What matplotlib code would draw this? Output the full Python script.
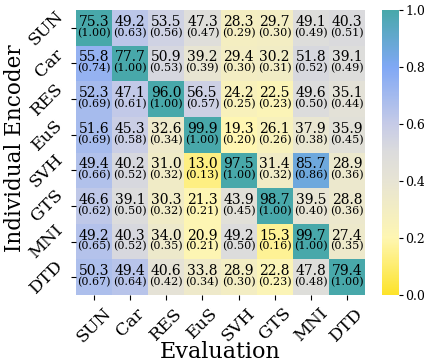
import numpy as np
import matplotlib
matplotlib.use("Agg")
import matplotlib.pyplot as plt
from matplotlib.colors import LinearSegmentedColormap

plt.rcParams['font.family'] = ['DejaVu Serif']

labels = ["SUN", "Car", "RES", "EuS", "SVH", "GTS", "MNI", "DTD"]

# accuracy per (encoder row, evaluation column)
acc = np.array([
    [75.3, 49.2, 53.5, 47.3, 28.3, 29.7, 49.1, 40.3],
    [55.8, 77.7, 50.9, 39.2, 29.4, 30.2, 51.8, 39.1],
    [52.3, 47.1, 96.0, 56.5, 24.2, 22.5, 49.6, 35.1],
    [51.6, 45.3, 32.6, 99.9, 19.3, 26.1, 37.9, 35.9],
    [49.4, 40.2, 31.0, 13.0, 97.5, 31.4, 85.7, 28.9],
    [46.6, 39.1, 30.3, 21.3, 43.9, 98.7, 39.5, 28.8],
    [49.2, 40.3, 34.0, 20.9, 49.2, 15.3, 99.7, 27.4],
    [50.3, 49.4, 40.6, 33.8, 28.9, 22.8, 47.8, 79.4],
])

# normalized accuracy (shown in parentheses, drives the colour)
norm = np.array([
    [1.00, 0.63, 0.56, 0.47, 0.29, 0.30, 0.49, 0.51],
    [0.74, 1.00, 0.53, 0.39, 0.30, 0.31, 0.52, 0.49],
    [0.69, 0.61, 1.00, 0.57, 0.25, 0.23, 0.50, 0.44],
    [0.69, 0.58, 0.34, 1.00, 0.20, 0.26, 0.38, 0.45],
    [0.66, 0.52, 0.32, 0.13, 1.00, 0.32, 0.86, 0.36],
    [0.62, 0.50, 0.32, 0.21, 0.45, 1.00, 0.40, 0.36],
    [0.65, 0.52, 0.35, 0.21, 0.50, 0.16, 1.00, 0.35],
    [0.67, 0.64, 0.42, 0.34, 0.30, 0.23, 0.48, 1.00],
])

cmap = LinearSegmentedColormap.from_list("ybt", [
    (0.0, "#fde32a"),
    (0.2, "#fef6b2"),
    (0.4, "#e7e4d4"),
    (0.5, "#dcdcdc"),
    (0.6, "#c6cbe7"),
    (0.8, "#80a8f5"),
    (1.0, "#48a8aa"),
])

fig = plt.figure(figsize=(4.24, 3.63), dpi=100)
ax = fig.add_axes([76/424, 1 - 295/363, 289/424, 285/363])
cax = fig.add_axes([382/424, 1 - 295/363, 17/424, 285/363])

mesh = ax.pcolormesh(norm, cmap=cmap, vmin=0, vmax=1)
ax.set_xlim(0, 8)
ax.set_ylim(8, 0)

for i in range(8):
    for j in range(8):
        ax.text(j + 0.5, i + 0.33, f"{acc[i, j]:.1f}", ha="center", va="center", fontsize=10)
        ax.text(j + 0.5, i + 0.64, f"({norm[i, j]:.2f})", ha="center", va="center", fontsize=8)

ax.set_xticks(np.arange(8) + 0.5)
ax.set_yticks(np.arange(8) + 0.5)
ax.set_xticklabels(labels, rotation=45, fontsize=12.5, ha="center", va="top")
ax.set_yticklabels(labels, rotation=45, fontsize=12.5, va="center")
ax.tick_params(length=3.5)
for s in ax.spines.values():
    s.set_visible(False)
ax.set_xlabel("Evaluation", fontsize=16)
ax.set_ylabel("Individual Encoder", fontsize=15.5)
ax.xaxis.set_label_coords((220 - 76) / 289, -(341 - 295) / 285)
ax.yaxis.set_label_coords(-(76 - 26) / 289, (295 - 148) / 285)

cb = fig.colorbar(mesh, cax=cax)
cb.outline.set_visible(False)
cb.set_ticks([0.0, 0.2, 0.4, 0.6, 0.8, 1.0])
cb.ax.tick_params(labelsize=9, length=3, pad=1.5)

fig.savefig("out.png", dpi=100)
